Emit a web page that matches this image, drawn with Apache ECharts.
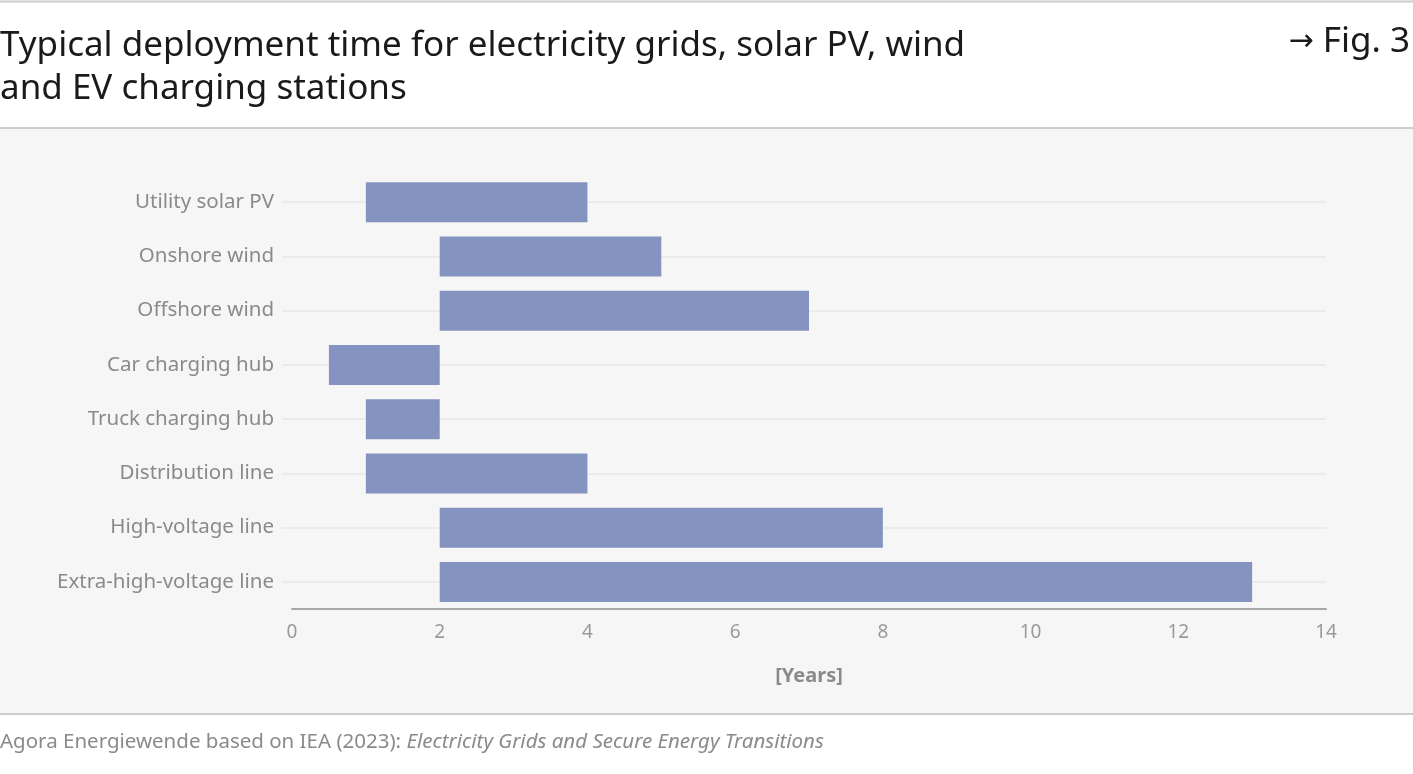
<!DOCTYPE html>
<html><head><meta charset="utf-8">
<script src="https://cdn.jsdelivr.net/npm/echarts@6/dist/echarts.min.js"></script>
<style>html,body{margin:0;padding:0;background:#fff}#c{width:1413px;height:774px}</style>
</head><body><div id="c"></div>
<script>
const categories = ['Utility solar PV','Onshore wind','Offshore wind','Car charging hub','Truck charging hub','Distribution line','High-voltage line','Extra-high-voltage line'];
const startYears = [1, 2, 2, 0.5, 1, 1, 2, 2];
const endYears   = [4, 5, 7, 2, 2, 4, 8, 13];
const xTicks = [0, 2, 4, 6, 8, 10, 12, 14];
const titleLines = ['Typical deployment time for electricity grids, solar PV, wind', 'and EV charging stations'];
const figArrow = '→';
const figText = ' Fig. 3';
const axisName = '[Years]';
const sourcePlain = 'Agora Energiewende based on IEA (2023): ';
const sourceItalic = 'Electricity Grids and Secure Energy Transitions';

const durations = startYears.map((s, i) => endYears[i] - s);
const FONT = 'Noto Sans';
const chart = echarts.init(document.getElementById('c'), null, {renderer: 'canvas'});
chart.setOption({
  animation: false,
  backgroundColor: '#ffffff',
  textStyle: {fontFamily: FONT},
  graphic: [
    {type: 'rect', z: -10, shape: {x: 0, y: 128, width: 1413, height: 586}, style: {fill: '#f6f6f6'}},
    {type: 'line', shape: {x1: 0, y1: 1.5, x2: 1413, y2: 1.5}, style: {stroke: '#cccccc', lineWidth: 2}},
    {type: 'line', shape: {x1: 0, y1: 128, x2: 1413, y2: 128}, style: {stroke: '#cccccc', lineWidth: 2}},
    {type: 'line', shape: {x1: 0, y1: 714, x2: 1413, y2: 714}, style: {stroke: '#cccccc', lineWidth: 2}},
    {type: 'text', left: 0, top: 25, style: {text: titleLines.join('\n'), font: '35px "Noto Sans"', fill: '#1a1a1a', lineHeight: 43}},
    {type: 'text', right: 3, top: 25, style: {
      text: '{a|' + figArrow + '}{b|' + figText + '}',
      rich: {
        a: {fontFamily: 'DejaVu Sans', fontSize: 30, fill: '#1a1a1a', color: '#1a1a1a', lineHeight: 43},
        b: {fontFamily: FONT, fontSize: 35, fill: '#1a1a1a', color: '#1a1a1a', lineHeight: 43}
      }
    }},
    {type: 'text', left: 0, top: 732, style: {
      text: '{a|' + sourcePlain + '}{b|' + sourceItalic + '}',
      rich: {
        a: {fontFamily: FONT, fontSize: 20.5, fill: '#8a8a8a', color: '#8a8a8a'},
        b: {fontFamily: FONT, fontSize: 20.5, fontStyle: 'italic', fill: '#8a8a8a', color: '#8a8a8a'}
      }
    }}
  ],
  grid: {left: 292, right: 87, top: 175, bottom: 165, containLabel: false},
  xAxis: {
    type: 'value', min: 0, max: 14, interval: 2,
    axisLine: {show: true, lineStyle: {color: '#a8a8a8', width: 2}},
    axisTick: {show: false},
    splitLine: {show: false},
    axisLabel: {color: '#9a9a9a', fontSize: 19, margin: 14, fontFamily: FONT,
      formatter: v => xTicks.includes(v) ? String(v) : ''},
    name: axisName, nameLocation: 'middle', nameGap: 57,
    nameTextStyle: {color: '#8a8a8a', fontSize: 20, fontWeight: 'bold', fontFamily: FONT}
  },
  yAxis: {
    type: 'category', inverse: true, data: categories,
    axisLine: {show: false},
    axisTick: {show: true, alignWithLabel: true, length: 10, lineStyle: {color: '#ebebeb', width: 2}},
    splitLine: {show: false},
    axisLabel: {color: '#8a8a8a', fontSize: 20.5, margin: 18, fontFamily: FONT}
  },
  series: [
    {type: 'bar', stack: 't', data: startYears, itemStyle: {color: 'transparent'}, barWidth: 40, silent: true,
      markLine: {silent: true, symbol: 'none', label: {show: false}, z: 0,
        lineStyle: {color: '#ebebeb', width: 2, type: 'solid'},
        data: categories.map(c => ({yAxis: c}))}},
    {type: 'bar', stack: 't', data: durations, itemStyle: {color: '#8493bf'}, barWidth: 40, z: 3}
  ]
});
</script></body></html>
